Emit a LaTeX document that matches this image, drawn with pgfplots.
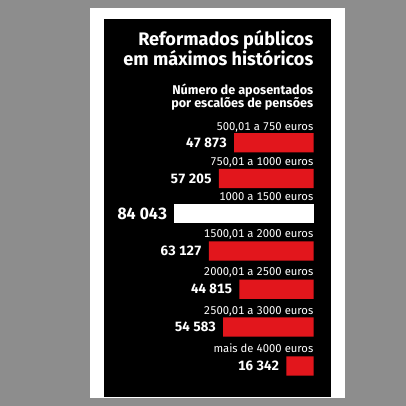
\documentclass[border=0pt]{standalone}
\usepackage{fontspec}
\setmainfont{Fira Sans}[Numbers=Monospaced]
\usepackage{pgfplots}
\usepackage{pgfplotstable}
\pgfplotsset{compat=1.18}

\definecolor{bggray}{RGB}{141,141,141}
\definecolor{barred}{RGB}{226,22,28}

% pensioners per pension bracket; y = row position (px from top)
\pgfplotstableread{
val y
47873 142.8
57205 178.5
63127 251.0
44815 289.3
54583 327.0
16342 366.0
}\redrows
\pgfplotstableread{
val y
84043 213.8
}\whiterow

\newcommand{\catfont}{\fontsize{11.3}{11.3}\selectfont}
\newcommand{\numfont}{\bfseries\fontsize{13.5}{13.5}\selectfont}
\newcommand{\ts}{\hspace{0.25em}}

\begin{document}
\begin{tikzpicture}[x=1bp,y=1bp]
  \fill[bggray] (0,0) rectangle (406,406);
  \fill[white] (90,8) rectangle (345,398);
  \fill[black] (104,9) rectangle (331,387);
  \begin{axis}[
      at={(313.5bp,0bp)}, anchor=south east,
      scale only axis, width=165.6bp, height=406bp,
      hide axis, clip=false,
      xmin=0, xmax=100000, x dir=reverse,
      ymin=0, ymax=406, y dir=reverse,
      xbar, bar width=19.3bp, bar shift=0pt,
    ]
    \addplot[fill=barred, draw=none] table[x=val, y=y] {\redrows};
    \addplot[fill=white, draw=none] table[x=val, y=y] {\whiterow};

    % titles
    \node[anchor=base east, inner sep=0, text=white, font=\bfseries\fontsize{18.2}{18.2}\selectfont]
      at (axis cs:0,46) {Reformados públicos};
    \node[anchor=base east, inner sep=0, text=white, font=\bfseries\fontsize{18.2}{18.2}\selectfont]
      at (axis cs:0,66) {em máximos históricos};
    \node[anchor=base east, inner sep=0, text=white, font=\bfseries\fontsize{12.7}{12.7}\selectfont]
      at (axis cs:0,94.3) {Número de aposentados};
    \node[anchor=base east, inner sep=0, text=white, font=\bfseries\fontsize{12.7}{12.7}\selectfont]
      at (axis cs:0,107.3) {por escalões de pensões};

    % category labels
    \node[anchor=base east, inner sep=0, text=white, font=\catfont] at (axis cs:0,130.0) {500,01 a 750 euros};
    \node[anchor=base east, inner sep=0, text=white, font=\catfont] at (axis cs:0,165.5) {750,01 a 1000 euros};
    \node[anchor=base east, inner sep=0, text=white, font=\catfont] at (axis cs:0,200.7) {1000 a 1500 euros};
    \node[anchor=base east, inner sep=0, text=white, font=\catfont] at (axis cs:0,237.0) {1500,01 a 2000 euros};
    \node[anchor=base east, inner sep=0, text=white, font=\catfont] at (axis cs:0,275.5) {2000,01 a 2500 euros};
    \node[anchor=base east, inner sep=0, text=white, font=\catfont] at (axis cs:0,314.3) {2500,01 a 3000 euros};
    \node[anchor=base east, inner sep=0, text=white, font=\catfont] at (axis cs:0,352.7) {mais de 4000 euros};

    % values
    \node[anchor=east, inner sep=0, xshift=-7bp, text=white, font=\numfont] at (axis cs:47873,142.8) {47\ts873};
    \node[anchor=east, inner sep=0, xshift=-7bp, text=white, font=\numfont] at (axis cs:57205,178.5) {57\ts205};
    \node[anchor=east, inner sep=0, xshift=-7bp, text=white, font=\bfseries\fontsize{16.3}{16.3}\selectfont] at (axis cs:84043,213.8) {84\ts043};
    \node[anchor=east, inner sep=0, xshift=-7bp, text=white, font=\numfont] at (axis cs:63127,251.0) {63\ts127};
    \node[anchor=east, inner sep=0, xshift=-7bp, text=white, font=\numfont] at (axis cs:44815,289.3) {44\ts815};
    \node[anchor=east, inner sep=0, xshift=-7bp, text=white, font=\numfont] at (axis cs:54583,327.0) {54\ts583};
    \node[anchor=east, inner sep=0, xshift=-7bp, text=white, font=\numfont] at (axis cs:16342,366.0) {16\ts342};
  \end{axis}
\end{tikzpicture}
\end{document}
